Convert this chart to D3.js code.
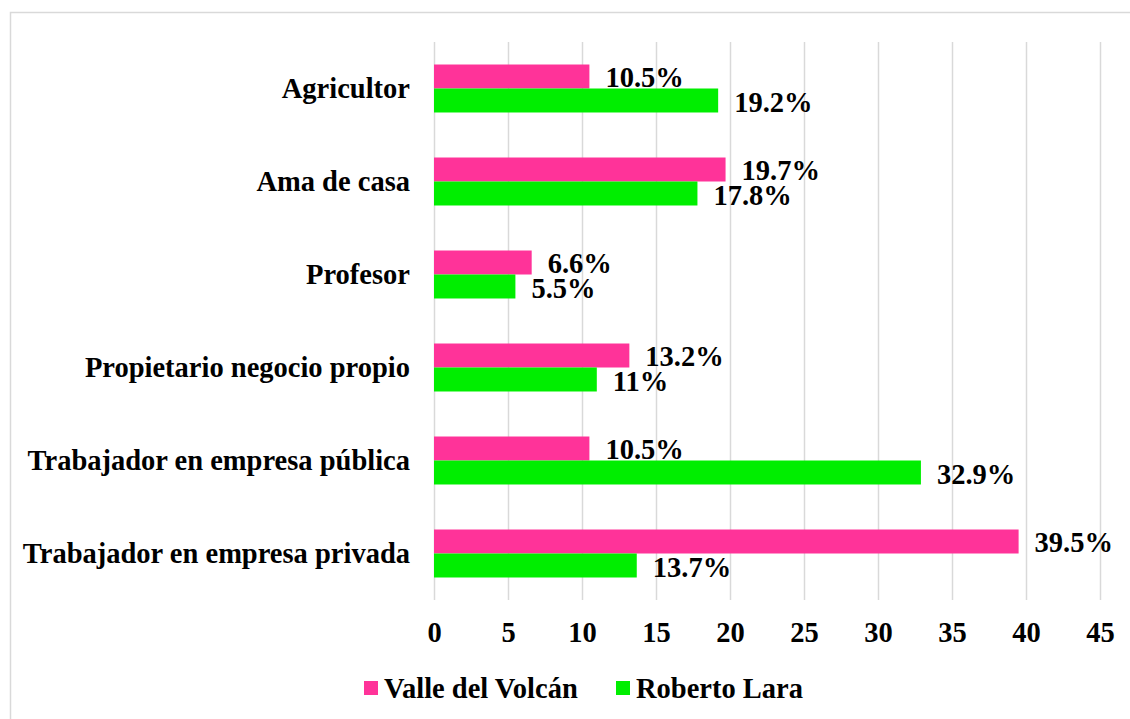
<!DOCTYPE html>
<html><head><meta charset="utf-8">
<script src="https://cdn.jsdelivr.net/npm/d3@7"></script>
<style>
html,body{margin:0;padding:0;background:#fff;}
svg{display:block;}
text{font-family:"Liberation Serif","Times New Roman",serif;font-weight:bold;fill:#000;}
</style></head>
<body>
<svg id="chart" width="1130" height="719"></svg>
<script>
const categories = ["Agricultor","Ama de casa","Profesor","Propietario negocio propio","Trabajador en empresa pública","Trabajador en empresa privada"];
const series = ["Valle del Volcán","Roberto Lara"];
const valleValues = [10.5, 19.7, 6.6, 13.2, 10.5, 39.5];
const robertoValues = [19.2, 17.8, 5.5, 11, 32.9, 13.7];
const valleLabels = ["10.5%","19.7%","6.6%","13.2%","10.5%","39.5%"];
const robertoLabels = ["19.2%","17.8%","5.5%","11%","32.9%","13.7%"];
const xTicks = [0,5,10,15,20,25,30,35,40,45];
const colors = ["#FF3399","#00EE00"];

(function(){
const svg = d3.select("#chart");
const FS = 28.5;
// chart border
svg.append("rect").attr("x",10.5).attr("y",12.5).attr("width",1200).attr("height",800)
  .attr("fill","none").attr("stroke","#d9d9d9").attr("stroke-width",1.5);

const pL = 434, pR = 1100, pT = 42, pB = 600;
const x = d3.scaleLinear().domain([0,45]).range([pL,pR]);
const y = d3.scaleBand().domain(categories).range([pT,pB]).paddingInner(0.484).paddingOuter(0.242);
const sub = d3.scaleBand().domain(series).range([0,y.bandwidth()]);

// gridlines
svg.append("g").selectAll("line").data(xTicks).join("line")
  .attr("x1",d=>x(d)+0.5).attr("x2",d=>x(d)+0.5).attr("y1",pT).attr("y2",pB)
  .attr("stroke","#d9d9d9").attr("stroke-width",1.5);

const data = categories.map((c,i)=>({cat:c, vals:[
  {s:series[0], v:valleValues[i], l:valleLabels[i], c:colors[0], dy:10},
  {s:series[1], v:robertoValues[i], l:robertoLabels[i], c:colors[1], dy:12}]}));

const g = svg.append("g").selectAll("g").data(data).join("g")
  .attr("transform",d=>`translate(0,${y(d.cat)})`);
g.selectAll("rect").data(d=>d.vals).join("rect")
  .attr("x",x(0)).attr("y",d=>sub(d.s)).attr("width",d=>x(d.v)-x(0)).attr("height",sub.bandwidth())
  .attr("fill",d=>d.c);
g.selectAll("text").data(d=>d.vals).join("text")
  .attr("x",d=>x(d.v)+16).attr("y",d=>sub(d.s)+sub.bandwidth()/2+d.dy)
  .attr("font-size",FS).text(d=>d.l);

// category labels
svg.append("g").selectAll("text").data(categories).join("text")
  .attr("x",410).attr("y",d=>y(d)+y.bandwidth()/2+9).attr("text-anchor","end")
  .attr("font-size",FS).text(d=>d);

// x axis tick labels
const xAxis = d3.axisBottom(x).tickValues(xTicks).tickSize(0).tickPadding(0).tickFormat(d3.format("d"));
const ax = svg.append("g").attr("transform",`translate(0,${pB})`).call(xAxis);
ax.select(".domain").remove();
ax.selectAll("text").attr("font-size",FS).attr("font-family",null).attr("dy",null).attr("y",42);

// legend
const legend = svg.append("g");
const lx = [364, 616];
series.forEach((s,i)=>{
  legend.append("rect").attr("x",lx[i]).attr("y",681).attr("width",14).attr("height",14).attr("fill",colors[i]);
  legend.append("text").attr("x",lx[i]+20).attr("y",698).attr("font-size",FS).text(s);
});
})();
</script>
</body></html>
